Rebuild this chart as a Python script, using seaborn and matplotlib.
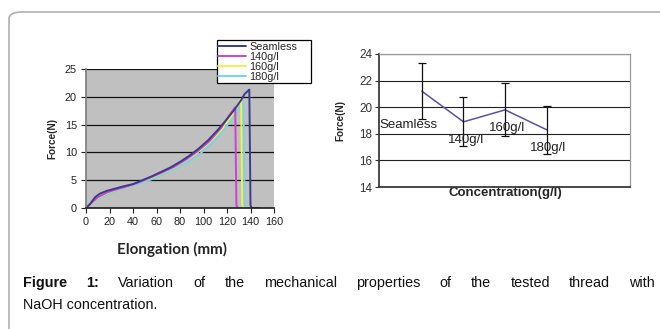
import numpy as np
import pandas as pd
import matplotlib
matplotlib.use("Agg")
import matplotlib.pyplot as plt
from matplotlib.patches import FancyBboxPatch
from matplotlib.lines import Line2D
import seaborn as sns

# ---------------- data ----------------
series_names = ["Seamless", "140g/l", "160g/l", "180g/l"]
seamless_x = [0, 3, 8, 12, 18, 25, 32, 40, 48, 56, 64, 72, 80, 88, 96, 104, 112, 120, 126, 132, 135, 139, 140, 141, 148]
seamless_y = [0, 0.6, 2.0, 2.6, 3.1, 3.5, 3.9, 4.3, 5.0, 5.7, 6.5, 7.3, 8.3, 9.4, 10.7, 12.2, 14.0, 16.0, 17.6, 19.4, 20.5, 21.3, 0.5, 0, 0]
c140_x = [0, 5, 10, 18, 25, 35, 45, 55, 65, 75, 85, 95, 105, 115, 122, 127, 128, 129]
c140_y = [0, 1.0, 1.9, 2.8, 3.3, 3.9, 4.6, 5.5, 6.4, 7.4, 8.7, 10.2, 12.0, 14.4, 16.7, 18.1, 0.5, 0]
c160_x = [0, 5, 10, 18, 25, 35, 45, 55, 65, 75, 85, 95, 105, 115, 125, 132, 133, 134]
c160_y = [0, 0.9, 1.8, 2.7, 3.3, 3.9, 4.6, 5.4, 6.3, 7.3, 8.6, 10.0, 11.8, 14.0, 16.9, 19.6, 0.5, 0]
c180_x = [0, 5, 10, 18, 25, 35, 45, 55, 65, 75, 85, 95, 105, 115, 125, 134, 135, 136]
c180_y = [0, 0.8, 1.6, 2.5, 3.1, 3.8, 4.4, 5.1, 6.0, 7.0, 8.1, 9.4, 11.2, 13.4, 16.2, 19.0, 0.5, 0]

conc_labels = ["Seamless", "140g/l", "160g/l", "180g/l"]
force_mean = [21.2, 18.9, 19.8, 18.3]
force_err = [2.1, 1.85, 2.0, 1.8]

caption_bold = "Figure 1:"
caption_line1 = "Variation of the mechanical properties of the tested thread with"
caption_line2 = "NaOH concentration."

# ---------------- style ----------------
sns.set_theme(style="white")
plt.rcParams['font.family'] = ['Liberation Sans', 'DejaVu Sans']

colors = {"Seamless": "#3b3b8e", "140g/l": "#cc44cc", "160g/l": "#f2f04a", "180g/l": "#74d6e6"}

fig = plt.figure(figsize=(6.6, 3.29), dpi=100)
W, H = 660, 329

# outer rounded border
border = FancyBboxPatch((9 / W, -0.2), 1.2, (1 - 12 / H) + 0.2,
                        boxstyle="round,pad=0,rounding_size=0.02",
                        transform=fig.transFigure, fill=False,
                        edgecolor="#b0b0b0", linewidth=1.2)
fig.patches.append(border)

# ---------------- left chart ----------------
axL = fig.add_axes([86 / W, 1 - 208 / H, (274 - 86) / W, (208 - 69) / H])
frames = []
for name, xs, ys in zip(series_names,
                        [seamless_x, c140_x, c160_x, c180_x],
                        [seamless_y, c140_y, c160_y, c180_y]):
    frames.append(pd.DataFrame({"Elongation": xs, "Force": ys, "series": name}))
dfL = pd.concat(frames, ignore_index=True)
for name in series_names[::-1]:
    d = dfL[dfL.series == name]
    sns.lineplot(data=d, x="Elongation", y="Force", ax=axL, color=colors[name],
                 linewidth=1.4, sort=False, estimator=None, legend=False)
axL.set_facecolor("#c0c0c0")
axL.set_xlim(0, 160)
axL.set_ylim(0, 25)
axL.set_xticks(range(0, 161, 20))
axL.set_yticks(range(0, 26, 5))
axL.yaxis.grid(True, color="#111111", linewidth=0.9)
axL.set_axisbelow(True)
for s in ["top", "right"]:
    axL.spines[s].set_visible(False)
axL.spines["left"].set_color("#808080")
axL.spines["bottom"].set_color("#222222")
axL.tick_params(axis="both", labelsize=7.8, length=3.5, width=0.8, colors="#222222",
                direction="out", bottom=True, left=True, pad=3)
axL.set_xlabel("Elongation (mm)", fontsize=11, fontweight="bold",
               family=["Lato", "DejaVu Sans"], va="center")
axL.xaxis.set_label_coords((172 - 86) / 188, -(249 - 208) / 139)
axL.set_ylabel("Force(N)", fontsize=7.2, fontweight="bold", va="center")
axL.yaxis.set_label_coords(-(86 - 52) / 188, 0.5)

handles = [Line2D([], [], color=colors[n], lw=1.4) for n in series_names]
leg = fig.legend(handles, series_names, loc="lower left",
                 bbox_to_anchor=(217 / W, 1 - 83 / H, 94 / W, 45 / H), mode="expand",
                 fontsize=7.8, frameon=True, fancybox=False, framealpha=1,
                 edgecolor="#000000", borderpad=0.12, labelspacing=0.0,
                 handlelength=2.6, handletextpad=0.25, borderaxespad=0)
leg.get_frame().set_linewidth(0.9)

# ---------------- right chart ----------------
axR = fig.add_axes([379 / W, 1 - 187 / H, (630 - 379) / W, (187 - 54) / H])
dfR = pd.DataFrame({"pos": np.arange(len(conc_labels)), "Force": force_mean,
                    "err": force_err, "label": conc_labels})
sns.lineplot(data=dfR, x="pos", y="Force", ax=axR, color="#5a50a8", linewidth=1.1,
             estimator=None, legend=False)
axR.errorbar(dfR["pos"], dfR["Force"], yerr=dfR["err"], fmt="none", ecolor="#111111",
             elinewidth=0.9, capsize=3, capthick=0.9)
label_offsets = [(-9.5, -24), (1.5, -13), (1.5, -13), (1, -13)]
for x, y, lab, off in zip(dfR["pos"], dfR["Force"], dfR["label"], label_offsets):
    axR.annotate(lab, (x, y), xytext=off, textcoords="offset points",
                 ha="center", va="center", fontsize=9.5, color="#222222")
axR.set_xlim(-1.03, 5.0)
axR.set_ylim(14, 24)
axR.set_yticks(range(14, 25, 2))
axR.set_xticks([])
axR.yaxis.grid(True, color="#222222", linewidth=0.8)
axR.set_axisbelow(True)
for s in ["top", "right"]:
    axR.spines[s].set_color("#999999")
    axR.spines[s].set_linewidth(0.9)
axR.spines["left"].set_color("#333333")
axR.spines["bottom"].set_color("#333333")
axR.tick_params(axis="y", labelsize=8.4, length=3, width=0.8, colors="#333333",
                direction="out", left=True, pad=2)
axR.set_xlabel("Concentration(g/l)", fontsize=9.5, fontweight="bold", va="center")
axR.xaxis.set_label_coords((505 - 379) / 251, -(193 - 187) / 133)
axR.set_ylabel("Force(N)", fontsize=7.2, fontweight="bold", va="center")
axR.yaxis.set_label_coords(-(379 - 340) / 251, 0.5)

# ---------------- caption (justified first line) ----------------
fig.canvas.draw()
renderer = fig.canvas.get_renderer()
cap_fs = 10.4
x0, x1 = 23, 655
base1, base2 = 287, 309
words = [(w, "bold") for w in caption_bold.split()] + [(w, "normal") for w in caption_line1.split()]
txts = []
for w, wt in words:
    t = fig.text(0, 1 - base1 / H, w, fontsize=cap_fs, fontweight=wt, va="baseline",
                 ha="left", color="#111111")
    txts.append(t)
widths = [t.get_window_extent(renderer).width for t in txts]
gap = (x1 - x0 - sum(widths)) / (len(txts) - 1)
cx = x0
for t, w in zip(txts, widths):
    t.set_x(cx / W)
    cx += w + gap
fig.text(x0 / W, 1 - base2 / H, caption_line2, fontsize=cap_fs, va="baseline",
         ha="left", color="#111111")

fig.savefig("out.png", dpi=100)
